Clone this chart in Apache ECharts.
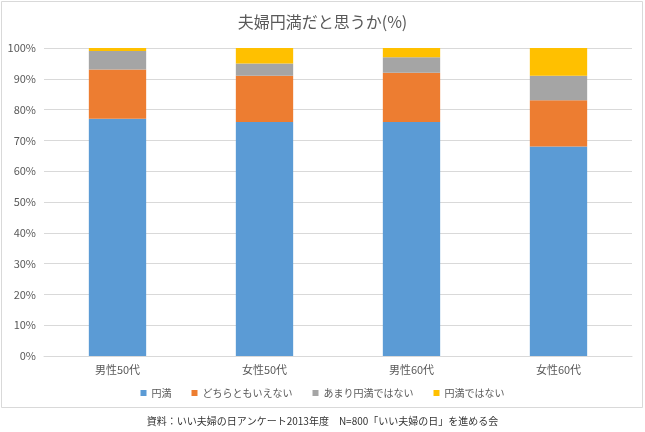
<!DOCTYPE html>
<html>
<head>
<meta charset="utf-8">
<script src="https://cdn.jsdelivr.net/npm/echarts@6/dist/echarts.min.js"></script>
<style>
  html, body { margin: 0; padding: 0; background: #fff; }
  #chart { width: 645px; height: 432px; }
</style>
</head>
<body>
<div id="chart"></div>
<script>
// data
const categories = ['男性50代', '女性50代', '男性60代', '女性60代'];
const seriesNames = ['円満', 'どちらともいえない', 'あまり円満ではない', '円満ではない'];
const enman = [77, 76, 76, 68];
const dochira = [16, 15, 16, 15];
const amari = [6, 4, 5, 8];
const notEnman = [1, 5, 3, 9];
const colors = ['#5B9BD5', '#ED7D31', '#A5A5A5', '#FFC000'];

const font = '"Noto Sans CJK JP", "Noto Sans", sans-serif';
const chart = echarts.init(document.getElementById('chart'));

const values = [enman, dochira, amari, notEnman];
const series = values.map(function (v, i) {
    return {
        name: seriesNames[i],
        type: 'bar',
        stack: 'total',
        barWidth: '39%',
        itemStyle: { color: colors[i] },
        data: v
    };
});

chart.setOption({
    backgroundColor: '#fff',
    animation: false,
    textStyle: { fontFamily: font },
    title: {
        text: '夫婦円満だと思うか(%)',
        left: 'center',
        top: 9,
        textStyle: { fontFamily: font, fontSize: 16, fontWeight: 'normal', color: '#595959' }
    },
    graphic: [{
        type: 'rect',
        shape: { x: 1.5, y: 1.5, width: 641, height: 406 },
        style: { fill: 'none', stroke: '#D9D9D9', lineWidth: 1 },
        silent: true
    }, {
        type: 'text',
        left: 'center',
        top: 416,
        style: {
            text: '資料：いい夫婦の日アンケート2013年度　N=800「いい夫婦の日」を進める会',
            fontFamily: font,
            fontSize: 10,
            fill: '#333'
        }
    }],
    legend: {
        bottom: 29,
        left: 'center',
        itemWidth: 6,
        itemHeight: 6,
        itemGap: 20,
        icon: 'rect',
        textStyle: { fontFamily: font, fontSize: 10, color: '#595959' },
        data: seriesNames
    },
    grid: {
        left: 44,
        right: 13,
        top: 48,
        bottom: 76
    },
    xAxis: {
        type: 'category',
        data: categories,
        axisLine: { lineStyle: { color: '#D9D9D9' } },
        axisTick: { show: false },
        axisLabel: { fontFamily: font, fontSize: 11, color: '#595959', margin: 8 }
    },
    yAxis: {
        type: 'value',
        min: 0,
        max: 100,
        interval: 10,
        axisLine: { show: false },
        axisTick: { show: false },
        axisLabel: { formatter: '{value}%', fontFamily: font, fontSize: 11, color: '#595959', margin: 8 },
        splitLine: { lineStyle: { color: '#D9D9D9' } }
    },
    series: series
});
</script>
</body>
</html>
